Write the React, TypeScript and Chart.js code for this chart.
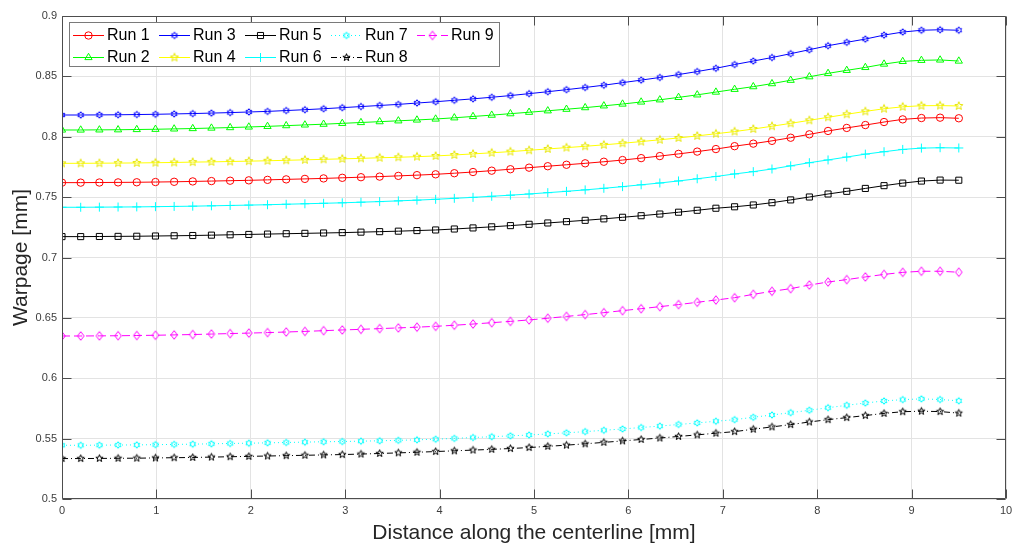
import React, { useEffect, useRef } from "react";
import { Chart, registerables } from "chart.js";
import { drawPoint } from "chart.js/helpers";

Chart.register(...registerables);

// Sample positions along the centerline [mm]
const distance = [
  0.0, 0.198, 0.396, 0.594, 0.792, 0.99, 1.188,
  1.385, 1.583, 1.781, 1.979, 2.177, 2.375, 2.573,
  2.771, 2.969, 3.167, 3.365, 3.563, 3.76, 3.958,
  4.156, 4.354, 4.552, 4.75, 4.948, 5.146, 5.344,
  5.542, 5.74, 5.938, 6.135, 6.333, 6.531, 6.729,
  6.927, 7.125, 7.323, 7.521, 7.719, 7.917, 8.115,
  8.313, 8.51, 8.708, 8.906, 9.104, 9.302, 9.5,
];

// Warpage per run [mm]
const run1 = [
  0.762, 0.762, 0.7621, 0.7622, 0.7623, 0.7625, 0.7627,
  0.763, 0.7633, 0.7636, 0.7639, 0.7643, 0.7647, 0.7651,
  0.7655, 0.766, 0.7665, 0.767, 0.7676, 0.7682, 0.7689,
  0.7698, 0.7708, 0.7719, 0.7731, 0.7744, 0.7756, 0.7768,
  0.778, 0.7793, 0.7807, 0.7823, 0.784, 0.7858, 0.7877,
  0.7898, 0.7922, 0.7943, 0.7966, 0.7992, 0.802, 0.8048,
  0.8073, 0.8097, 0.8122, 0.8144, 0.8155, 0.8158, 0.8153,
];
const run2 = [
  0.8056, 0.8056, 0.8057, 0.8058, 0.806, 0.8062, 0.8065,
  0.8068, 0.8072, 0.8076, 0.8081, 0.8086, 0.8092, 0.8098,
  0.8104, 0.8111, 0.8118, 0.8125, 0.8132, 0.8139, 0.8147,
  0.8157, 0.8168, 0.8179, 0.8191, 0.8203, 0.8215, 0.8228,
  0.8241, 0.8256, 0.8271, 0.8288, 0.8306, 0.8326, 0.8347,
  0.837, 0.8393, 0.8415, 0.844, 0.8468, 0.8497, 0.8525,
  0.855, 0.8574, 0.8602, 0.8624, 0.8633, 0.8636, 0.8627,
];
const run3 = [
  0.818, 0.818, 0.8181, 0.8182, 0.8184, 0.8186, 0.8189,
  0.8192, 0.8196, 0.82, 0.8205, 0.821, 0.8217, 0.8224,
  0.8232, 0.8241, 0.825, 0.8259, 0.8268, 0.8279, 0.829,
  0.8302, 0.8314, 0.8327, 0.8341, 0.8357, 0.8373, 0.839,
  0.8408, 0.8427, 0.8448, 0.8469, 0.8491, 0.8515, 0.854,
  0.8567, 0.8598, 0.8627, 0.8656, 0.8688, 0.8721, 0.8754,
  0.8782, 0.8809, 0.8842, 0.8867, 0.8882, 0.8886, 0.8882,
];
const run4 = [
  0.778, 0.778, 0.7781, 0.7782, 0.7783, 0.7785, 0.7787,
  0.779, 0.7792, 0.7795, 0.7798, 0.7801, 0.7805, 0.7809,
  0.7813, 0.7817, 0.7821, 0.7826, 0.783, 0.7835, 0.7841,
  0.7849, 0.7858, 0.7867, 0.7877, 0.7888, 0.7899, 0.791,
  0.7921, 0.7933, 0.7946, 0.796, 0.7975, 0.799, 0.8007,
  0.8025, 0.8043, 0.8064, 0.8087, 0.8111, 0.8136, 0.8161,
  0.8186, 0.821, 0.8232, 0.8248, 0.8257, 0.8258, 0.8255,
];
const run5 = [
  0.7173, 0.7173, 0.7174, 0.7175, 0.7176, 0.7178, 0.718,
  0.7182, 0.7185, 0.7188, 0.7191, 0.7194, 0.7197, 0.72,
  0.7203, 0.7206, 0.721, 0.7214, 0.7218, 0.7223, 0.7228,
  0.7236, 0.7245, 0.7254, 0.7264, 0.7275, 0.7286, 0.7297,
  0.7308, 0.732, 0.7333, 0.7346, 0.736, 0.7375, 0.7391,
  0.7408, 0.742, 0.7435, 0.7454, 0.7477, 0.7501, 0.7526,
  0.7548, 0.7572, 0.7595, 0.7616, 0.7633, 0.7641, 0.764,
];
const run6 = [
  0.7416, 0.7416, 0.7417, 0.7418, 0.7419, 0.7421, 0.7423,
  0.7425, 0.7428, 0.7431, 0.7434, 0.7437, 0.7441, 0.7445,
  0.7449, 0.7453, 0.7458, 0.7463, 0.7469, 0.7475, 0.7482,
  0.749, 0.7498, 0.7507, 0.7516, 0.7526, 0.7537, 0.7548,
  0.756, 0.7573, 0.7587, 0.7602, 0.7617, 0.7634, 0.7652,
  0.7671, 0.7692, 0.7711, 0.7733, 0.7759, 0.7785, 0.7808,
  0.7832, 0.7856, 0.7876, 0.7895, 0.7906, 0.7909, 0.7907,
];
const run7 = [
  0.5445, 0.5445, 0.5446, 0.5447, 0.5448, 0.545, 0.5452,
  0.5454, 0.5457, 0.546, 0.5462, 0.5465, 0.5468, 0.5471,
  0.5474, 0.5476, 0.5479, 0.5482, 0.5486, 0.549, 0.5495,
  0.5502, 0.5509, 0.5516, 0.5523, 0.553, 0.5539, 0.5548,
  0.5558, 0.5569, 0.558, 0.5592, 0.5604, 0.5617, 0.563,
  0.5644, 0.5657, 0.5677, 0.5696, 0.5715, 0.5735, 0.5756,
  0.5776, 0.5795, 0.5812, 0.5823, 0.5829, 0.5824, 0.5813,
];
const run8 = [
  0.5335, 0.5335, 0.5336, 0.5337, 0.5338, 0.534, 0.5342,
  0.5344, 0.5347, 0.535, 0.5353, 0.5356, 0.5359, 0.5362,
  0.5365, 0.5368, 0.5372, 0.5377, 0.5382, 0.5387, 0.5393,
  0.5399, 0.5405, 0.5411, 0.5418, 0.5426, 0.5436, 0.5446,
  0.5457, 0.5469, 0.5481, 0.5493, 0.5505, 0.5518, 0.5531,
  0.5545, 0.5558, 0.5578, 0.5597, 0.5616, 0.5638, 0.5657,
  0.5674, 0.5691, 0.5709, 0.5723, 0.5727, 0.5724, 0.5711,
];
const run9 = [
  0.635, 0.635, 0.6351, 0.6352, 0.6354, 0.6356, 0.6359,
  0.6362, 0.6366, 0.637, 0.6374, 0.6378, 0.6383, 0.6388,
  0.6394, 0.64, 0.6405, 0.6411, 0.6417, 0.6423, 0.643,
  0.6439, 0.6449, 0.646, 0.6471, 0.6483, 0.6497, 0.6512,
  0.6527, 0.6543, 0.656, 0.6576, 0.6593, 0.661, 0.6629,
  0.6648, 0.6667, 0.6695, 0.672, 0.6742, 0.6772, 0.6797,
  0.6817, 0.6839, 0.686, 0.6877, 0.6886, 0.6886, 0.6878,
];

const runLabels = ["Run 1", "Run 2", "Run 3", "Run 4", "Run 5", "Run 6", "Run 7", "Run 8", "Run 9"];
const runValues = [run1, run2, run3, run4, run5, run6, run7, run8, run9];

const xTickValues = [0, 1, 2, 3, 4, 5, 6, 7, 8, 9, 10];
const yTickValues = [0.5, 0.55, 0.6, 0.65, 0.7, 0.75, 0.8, 0.85, 0.9];

const FONT = "'Liberation Sans', Arial, Helvetica, sans-serif";
const AXIS_COLOR = "#4d4d4d";

// Outlined star marker (pentagram / hexagram) on its own small canvas
function starMarker(points: number, outer: number, inner: number, color: string) {
  const size = Math.ceil(outer * 2 + 3);
  const c = document.createElement("canvas");
  c.width = size;
  c.height = size;
  const ctx = c.getContext("2d")!;
  ctx.strokeStyle = color;
  ctx.lineWidth = 1;
  ctx.beginPath();
  for (let i = 0; i < points * 2; i++) {
    const r = i % 2 === 0 ? outer : inner;
    const a = -Math.PI / 2 + (i * Math.PI) / points;
    const px = size / 2 + r * Math.cos(a);
    const py = size / 2 + r * Math.sin(a);
    if (i === 0) ctx.moveTo(px, py);
    else ctx.lineTo(px, py);
  }
  ctx.closePath();
  ctx.stroke();
  return c;
}

// Outlined diamond marker, slightly taller than wide
function diamondMarker(halfW: number, halfH: number, color: string) {
  const w = Math.ceil(halfW * 2 + 3);
  const h = Math.ceil(halfH * 2 + 3);
  const c = document.createElement("canvas");
  c.width = w;
  c.height = h;
  const ctx = c.getContext("2d")!;
  ctx.strokeStyle = color;
  ctx.lineWidth = 1;
  ctx.beginPath();
  ctx.moveTo(w / 2, h / 2 - halfH);
  ctx.lineTo(w / 2 + halfW, h / 2);
  ctx.lineTo(w / 2, h / 2 + halfH);
  ctx.lineTo(w / 2 - halfW, h / 2);
  ctx.closePath();
  ctx.stroke();
  return c;
}

// Axes box with inward tick marks on all four sides
const boxPlugin = {
  id: "axesBox",
  afterDatasetsDraw(chart: any) {
    const { ctx, chartArea } = chart;
    const { left, right, top, bottom } = chartArea;
    const tick = 9;
    ctx.save();
    ctx.strokeStyle = AXIS_COLOR;
    ctx.lineWidth = 1;
    ctx.setLineDash([]);
    ctx.beginPath();
    const L = Math.round(left) + 0.5;
    const R = Math.round(right) - 0.5;
    const T = Math.round(top) + 0.5;
    const B = Math.round(bottom) - 0.5;
    ctx.rect(L, T, R - L, B - T);
    for (const t of chart.scales.x.ticks) {
      const px = Math.round(chart.scales.x.getPixelForValue(t.value)) + 0.5;
      ctx.moveTo(px, B);
      ctx.lineTo(px, B - tick);
      ctx.moveTo(px, T);
      ctx.lineTo(px, T + tick);
    }
    for (const t of chart.scales.y.ticks) {
      const py = Math.round(chart.scales.y.getPixelForValue(t.value)) + 0.5;
      ctx.moveTo(L, py);
      ctx.lineTo(L + tick, py);
      ctx.moveTo(R, py);
      ctx.lineTo(R - tick, py);
    }
    ctx.stroke();
    ctx.restore();
  },
};

// Legend in five columns, filled column by column, inside the top-left corner
const legendPlugin = {
  id: "runLegend",
  afterDraw(chart: any) {
    const { ctx, chartArea } = chart;
    const left = chartArea.left + 7;
    const top = chartArea.top + 6;
    const width = 431;
    const height = 45;
    ctx.save();
    ctx.fillStyle = "#ffffff";
    ctx.fillRect(left, top, width, height);
    ctx.strokeStyle = "#7a7a7a";
    ctx.lineWidth = 1;
    ctx.strokeRect(left + 0.5, top + 0.5, width - 1, height - 1);
    chart.data.datasets.forEach((ds: any, i: number) => {
      const col = Math.floor(i / 2);
      const row = i % 2;
      const x0 = left + 4 + col * 86;
      const y = top + 13 + row * 22;
      ctx.save();
      ctx.strokeStyle = ds.borderColor;
      ctx.lineWidth = 1;
      ctx.setLineDash(ds.borderDash || []);
      ctx.beginPath();
      ctx.moveTo(x0, y + 0.5);
      ctx.lineTo(x0 + 31, y + 0.5);
      ctx.stroke();
      ctx.setLineDash([]);
      ctx.strokeStyle = ds.pointBorderColor;
      ctx.fillStyle = "rgba(0,0,0,0)";
      drawPoint(
        ctx,
        { pointStyle: ds.pointStyle, radius: ds.pointRadius, rotation: 0, borderWidth: 1 } as any,
        x0 + 15.5,
        y + 0.5
      );
      ctx.restore();
      ctx.fillStyle = "#000000";
      ctx.font = `16px ${FONT}`;
      ctx.textBaseline = "middle";
      ctx.textAlign = "left";
      ctx.fillText(ds.label, x0 + 34, y + 1);
    });
    ctx.restore();
  },
};

export default function App() {
  const canvasRef = useRef<HTMLCanvasElement | null>(null);

  useEffect(() => {
    if (!canvasRef.current) return;

    const styles = [
      { color: "#ff0000", point: "circle" as any, radius: 3.7, dash: [] as number[] },
      { color: "#00ff00", point: "triangle" as any, radius: 4.2, dash: [] },
      { color: "#0000ff", point: starMarker(6, 3.3, 1.9, "#0000ff") as any, radius: 3.5, dash: [] },
      { color: "#ffff00", point: starMarker(5, 4.3, 1.8, "#e6e600") as any, radius: 4, dash: [] },
      { color: "#000000", point: "rect" as any, radius: 4.3, dash: [] },
      { color: "#00ffff", point: "cross" as any, radius: 4.5, dash: [] },
      { color: "#00ffff", point: starMarker(6, 3.3, 1.9, "#00ffff") as any, radius: 3.5, dash: [1, 3] },
      { color: "#000000", point: starMarker(5, 3.8, 1.6, "#000000") as any, radius: 3.5, dash: [6, 3, 1, 3] },
      { color: "#ff00ff", point: diamondMarker(3.3, 4.3, "#ff00ff") as any, radius: 4, dash: [8, 4] },
    ];

    const datasets = runValues.map((vals, i) => ({
      label: runLabels[i],
      data: vals.map((v, j) => ({ x: distance[j], y: v })),
      borderColor: styles[i].color,
      borderWidth: 1,
      borderDash: styles[i].dash,
      pointStyle: styles[i].point,
      pointRadius: styles[i].radius,
      pointHoverRadius: styles[i].radius,
      pointBorderColor: styles[i].color,
      pointBackgroundColor: "rgba(0,0,0,0)",
      pointBorderWidth: 1,
      backgroundColor: "rgba(0,0,0,0)",
      fill: false,
      tension: 0,
    }));

    const chart = new Chart(canvasRef.current, {
      type: "line",
      data: { datasets },
      options: {
        responsive: false,
        maintainAspectRatio: false,
        animation: false,
        layout: { padding: { left: 0, right: 18, top: 16, bottom: 0 } },
        plugins: {
          legend: { display: false },
          tooltip: { enabled: false },
        },
        scales: {
          x: {
            type: "linear",
            min: 0,
            max: 10,
            afterBuildTicks: (s: any) => {
              s.ticks = xTickValues.map((v) => ({ value: v }));
            },
            afterFit: (s: any) => {
              s.height = 47;
            },
            grid: { color: "#e3e3e3", lineWidth: 1, drawTicks: false },
            border: { display: false },
            ticks: {
              color: "#3c3c3c",
              font: { family: FONT, size: 11 },
              padding: 5,
              maxRotation: 0,
              callback: (v: any) => String(v),
            },
            title: {
              display: true,
              text: "Distance along the centerline [mm]",
              color: "#262626",
              font: { family: FONT, size: 21 },
              padding: { top: 0, bottom: 0 },
            },
          },
          y: {
            type: "linear",
            min: 0.5,
            max: 0.9,
            afterBuildTicks: (s: any) => {
              s.ticks = yTickValues.map((v) => ({ value: v }));
            },
            afterFit: (s: any) => {
              s.width = 62;
            },
            grid: { color: "#e3e3e3", lineWidth: 1, drawTicks: false },
            border: { display: false },
            ticks: {
              color: "#3c3c3c",
              font: { family: FONT, size: 11 },
              padding: 5,
              callback: (v: any) => String(parseFloat(Number(v).toFixed(2))),
            },
            title: {
              display: true,
              text: "Warpage [mm]",
              color: "#262626",
              font: { family: FONT, size: 21 },
              padding: { top: 9, bottom: 0 },
            },
          },
        },
      },
      plugins: [boxPlugin, legendPlugin],
    });

    return () => chart.destroy();
  }, []);

  return (
    <div style={{ position: "fixed", left: 0, top: 0, width: 1024, height: 546, background: "#ffffff" }}>
      <canvas ref={canvasRef} width={1024} height={546} style={{ width: 1024, height: 546, display: "block" }} />
    </div>
  );
}
